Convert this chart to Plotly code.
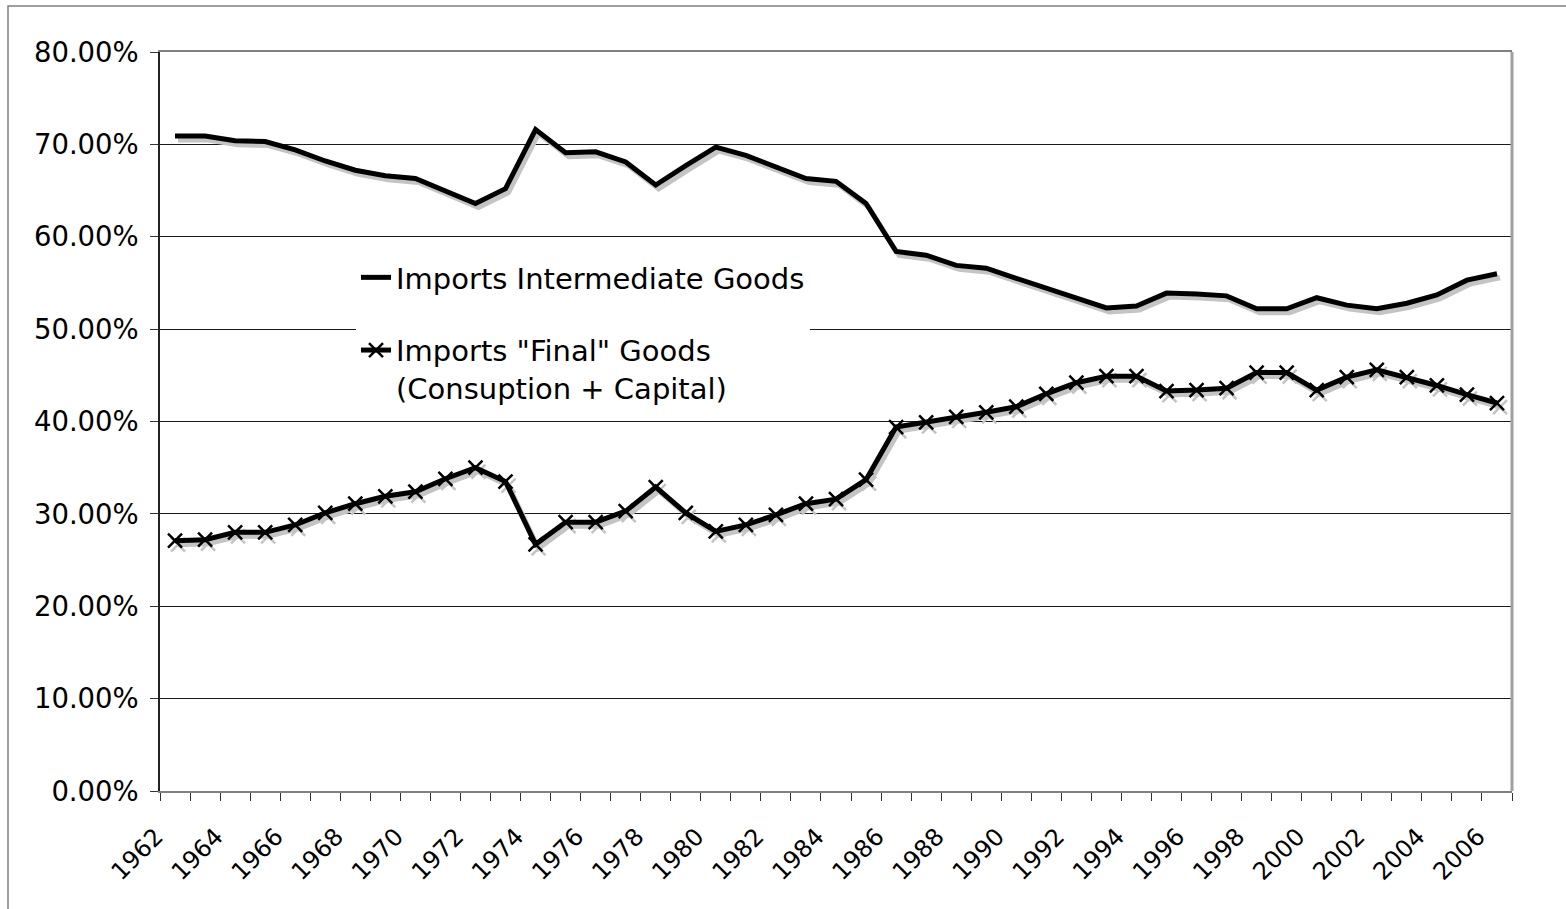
import plotly.graph_objects as go

years = list(range(1962, 2007))
intermediate = [70.9, 70.9, 70.4, 70.3, 69.4, 68.2, 67.2, 66.6, 66.3, 64.9, 63.6, 65.2,
                71.6, 69.1, 69.2, 68.1, 65.6, 67.7, 69.7, 68.8, 67.6, 66.3, 66.0, 63.6,
                58.4, 58.0, 56.9, 56.6, 55.5, 54.4, 53.3, 52.3, 52.5, 53.9, 53.8, 53.6,
                52.2, 52.2, 53.4, 52.6, 52.2, 52.8, 53.7, 55.3, 56.0]
final_goods = [27.1, 27.2, 28.0, 28.0, 28.8, 30.1, 31.1, 31.9, 32.4, 33.8, 35.0, 33.5,
               26.7, 29.1, 29.1, 30.3, 32.9, 30.1, 28.1, 28.8, 29.9, 31.1, 31.6, 33.7,
               39.4, 39.9, 40.5, 41.0, 41.6, 43.0, 44.2, 44.9, 44.9, 43.3, 43.4, 43.6,
               45.3, 45.3, 43.4, 44.8, 45.6, 44.8, 43.9, 42.9, 42.0]
series_names = ["Imports Intermediate Goods", 'Imports "Final" Goods<br>(Consuption + Capital)']
y_ticks = [0, 10, 20, 30, 40, 50, 60, 70, 80]

W, H = 1566, 909
ML, MR, MT, MB = 160, 54, 52, 118
PW, PH = W - ML - MR, H - MT - MB

x_range = [years[0] - 0.5, years[-1] + 0.5]
y_range = [0, 80]
# shadow offset in pixels, converted through the axis scale
sdx, sdy = 3, 4
ux = (x_range[1] - x_range[0]) / PW
uy = (y_range[1] - y_range[0]) / PH
x_range_sh = [x_range[0] - sdx * ux, x_range[1] - sdx * ux]
y_range_sh = [y_range[0] + sdy * uy, y_range[1] + sdy * uy]

FONT = "DejaVu Sans"
SHADOW = "#c4c4c4"

fig = go.Figure()
# shadows (bottom layer, invisible shifted axes)
fig.add_trace(go.Scatter(x=years, y=intermediate, mode="lines",
                         line=dict(color=SHADOW, width=5), showlegend=False,
                         hoverinfo="skip", xaxis="x", yaxis="y"))
fig.add_trace(go.Scatter(x=years, y=final_goods, mode="lines+markers",
                         line=dict(color=SHADOW, width=5),
                         marker=dict(symbol="x-thin", size=14, color=SHADOW,
                                     line=dict(color=SHADOW, width=2.5)),
                         showlegend=False, hoverinfo="skip", xaxis="x", yaxis="y"))
# main series
fig.add_trace(go.Scatter(x=years, y=intermediate, mode="lines", name=series_names[0],
                         line=dict(color="black", width=5), legendgroup="a",
                         xaxis="x2", yaxis="y2"))
fig.add_trace(go.Scatter(x=years, y=final_goods, mode="lines+markers", name=series_names[1],
                         line=dict(color="black", width=5), legendgroup="b",
                         marker=dict(symbol="x-thin", size=14, color="black",
                                     line=dict(color="black", width=2.5)),
                         xaxis="x2", yaxis="y2"))

boundaries = [y - 0.5 for y in years] + [years[-1] + 0.5]
tick_text = [str(y) if (y - years[0]) % 2 == 0 else "" for y in years] + [""]

fig.update_layout(
    width=W, height=H,
    margin=dict(l=ML, r=MR, t=MT, b=MB),
    paper_bgcolor="white", plot_bgcolor="white",
    font=dict(family=FONT, color="black", size=27),
    xaxis=dict(range=x_range_sh, visible=False, showgrid=False, zeroline=False),
    yaxis=dict(range=y_range_sh, visible=False, showgrid=False, zeroline=False),
    xaxis2=dict(range=x_range, overlaying="x", side="bottom",
                tickmode="array", tickvals=boundaries, ticktext=tick_text,
                tickangle=-45, ticks="outside", ticklen=8, tickcolor="#333",
                ticklabelstandoff=12, ticklabelshift=-4,
                tickfont=dict(size=24, family=FONT, color="black"),
                showgrid=False, zeroline=False,
                showline=True, linecolor="#808080", linewidth=2, mirror=True),
    yaxis2=dict(range=y_range, overlaying="y", side="left",
                tickmode="array", tickvals=y_ticks,
                ticktext=[f"{v:.2f}%" for v in y_ticks],
                ticks="outside", ticklen=8, tickcolor="#333",
                ticklabelstandoff=6,
                tickfont=dict(size=27.5, family=FONT, color="black"),
                showgrid=True, gridcolor="#1a1a1a", gridwidth=1, zeroline=False,
                showline=True, linecolor="#222", linewidth=1.5),
    legend=dict(x=(356 - ML) / PW, y=(MT + PH - 252) / PH, xanchor="left", yanchor="top",
                bgcolor="white", borderwidth=0, font=dict(size=29, family=FONT, color="black"),
                tracegroupgap=32, valign="top", itemwidth=30),
    showlegend=True,
    shapes=[
        dict(type="line", xref="paper", yref="paper", x0=1, x1=1, y0=0, y1=1,
             line=dict(color="#a0a0a0", width=3)),
        dict(type="rect", xref="paper", yref="paper",
             x0=(8 - ML) / PW, x1=(W + 10 - ML) / PW,
             y0=(MT + PH - (H + 10)) / PH, y1=(MT + PH - 6) / PH,
             line=dict(color="#808080", width=1.5), fillcolor="rgba(0,0,0,0)"),
    ],
)

fig.write_html("out.html")
